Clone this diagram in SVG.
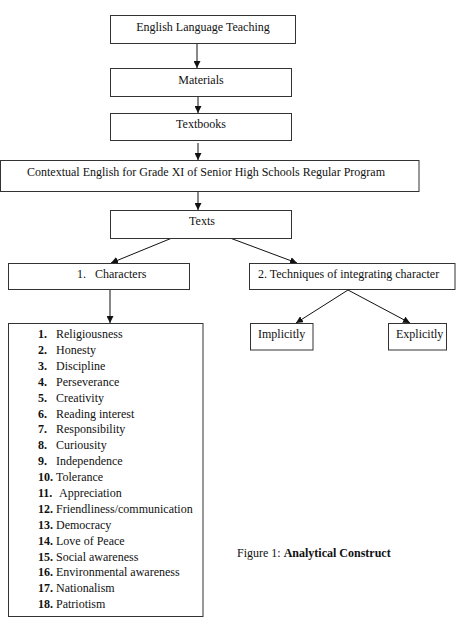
<svg xmlns="http://www.w3.org/2000/svg" width="457" height="628" viewBox="0 0 457 628">
<style>
.box{fill:#fff;stroke:#333;stroke-width:1}
text{font-family:"Liberation Serif","Times New Roman",serif;font-size:12px;fill:#111}
.c{text-anchor:middle}
.b{font-weight:bold}
.con line{stroke:#111;stroke-width:1;marker-end:url(#ah)}
</style>
<defs>
<marker id="ah" viewBox="0 0 8 8" refX="8" refY="4" markerWidth="7" markerHeight="7" orient="auto" markerUnits="userSpaceOnUse">
<path d="M0,0 L8,4 L0,8 Z" fill="#111"/>
</marker>
</defs>
<rect width="457" height="628" fill="#fff"/>
<g id="connectors" class="con">
<line x1="197" y1="43.5" x2="197" y2="68"/>
<line x1="198" y1="97" x2="198" y2="113"/>
<line x1="198" y1="143" x2="198" y2="160"/>
<line x1="198" y1="192" x2="198" y2="210"/>
<line x1="172" y1="238" x2="111" y2="263"/>
<line x1="230" y1="238" x2="297" y2="263"/>
<line x1="110" y1="290" x2="110" y2="323"/>
<line x1="348" y1="290" x2="296" y2="323"/>
<line x1="348" y1="290" x2="410" y2="323"/>
</g>
<g id="n-elt"><rect class="box" x="110.5" y="15.5" width="185" height="28"/><text class="c" x="203" y="31">English Language Teaching</text></g>
<g id="n-materials"><rect class="box" x="110.5" y="68.5" width="181" height="28"/><text class="c" x="201" y="84">Materials</text></g>
<g id="n-textbooks"><rect class="box" x="110.5" y="113.5" width="181" height="27"/><text class="c" x="201" y="128">Textbooks</text></g>
<g id="n-contextual"><rect class="box" x="0.5" y="160.5" width="418.5" height="31"/><text x="27" y="176" font-size="11" textLength="358" lengthAdjust="spacing">Contextual English for Grade XI of Senior High Schools Regular Program</text></g>
<g id="n-texts"><rect class="box" x="110.5" y="210.5" width="181" height="28"/><text class="c" x="202" y="225">Texts</text></g>
<g id="n-characters"><rect class="box" x="8.5" y="263.5" width="181" height="26"/><text x="77" y="278" xml:space="preserve">1.   Characters</text></g>
<g id="n-techniques"><rect class="box" x="249.5" y="263.5" width="205.5" height="26"/><text x="258" y="278">2. Techniques of integrating character</text></g>
<g id="n-implicitly"><rect class="box" x="250.5" y="323.5" width="62.5" height="26.5"/><text x="258" y="338">Implicitly</text></g>
<g id="n-explicitly"><rect class="box" x="388.5" y="323.5" width="58" height="26.5"/><text x="396" y="338">Explicitly</text></g>
<g id="n-list">
<rect class="box" x="8.5" y="323.5" width="194.5" height="293"/>
<text x="38" y="338"><tspan class="b">1.</tspan><tspan x="56">Religiousness</tspan></text>
<text x="38" y="354"><tspan class="b">2.</tspan><tspan x="56">Honesty</tspan></text>
<text x="38" y="370"><tspan class="b">3.</tspan><tspan x="56">Discipline</tspan></text>
<text x="38" y="386"><tspan class="b">4.</tspan><tspan x="56">Perseverance</tspan></text>
<text x="38" y="402"><tspan class="b">5.</tspan><tspan x="56">Creativity</tspan></text>
<text x="38" y="418"><tspan class="b">6.</tspan><tspan x="56">Reading interest</tspan></text>
<text x="38" y="433"><tspan class="b">7.</tspan><tspan x="56">Responsibility</tspan></text>
<text x="38" y="449"><tspan class="b">8.</tspan><tspan x="56">Curiousity</tspan></text>
<text x="38" y="465"><tspan class="b">9.</tspan><tspan x="56">Independence</tspan></text>
<text x="38" y="481"><tspan class="b">10.</tspan><tspan x="56">Tolerance</tspan></text>
<text x="38" y="497"><tspan class="b">11.</tspan><tspan x="59">Appreciation</tspan></text>
<text x="38" y="513"><tspan class="b">12.</tspan><tspan x="56">Friendliness/communication</tspan></text>
<text x="38" y="529"><tspan class="b">13.</tspan><tspan x="56">Democracy</tspan></text>
<text x="38" y="545"><tspan class="b">14.</tspan><tspan x="56">Love of Peace</tspan></text>
<text x="38" y="561"><tspan class="b">15.</tspan><tspan x="56">Social awareness</tspan></text>
<text x="38" y="576"><tspan class="b">16.</tspan><tspan x="56">Environmental awareness</tspan></text>
<text x="38" y="592"><tspan class="b">17.</tspan><tspan x="56">Nationalism</tspan></text>
<text x="38" y="608"><tspan class="b">18.</tspan><tspan x="56">Patriotism</tspan></text>
</g>
<text x="237" y="557">Figure 1: <tspan class="b">Analytical Construct</tspan></text>
</svg>
